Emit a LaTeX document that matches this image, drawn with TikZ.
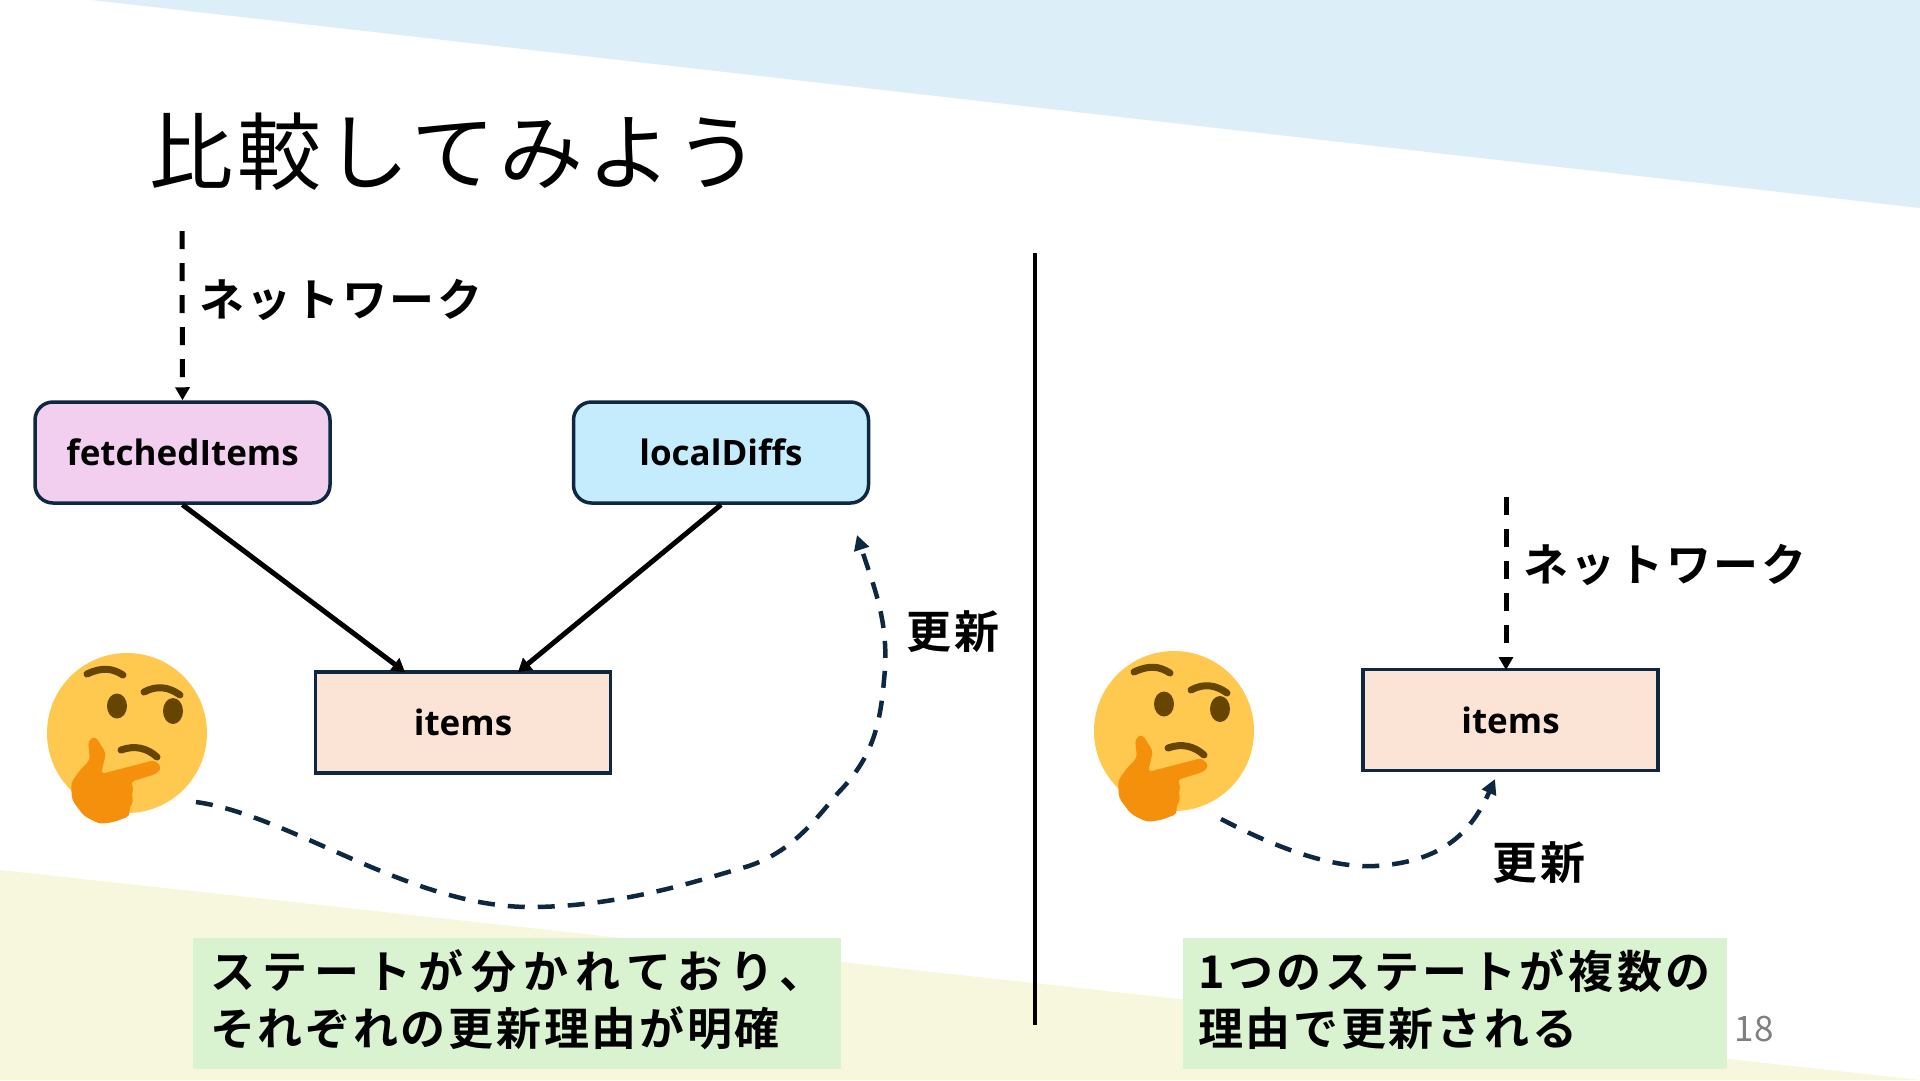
\documentclass[tikz,border=0pt]{standalone}
\usepackage{fontspec}
\newfontfamily\jpfont[BoldFont=* Bold]{Noto Sans CJK JP}
\newfontfamily\jpnarrow[BoldFont=* Bold,LetterSpace=6]{Noto Sans CJK JP}
\newfontfamily\jpspaced[BoldFont=* Bold,LetterSpace=8]{Noto Sans CJK JP}
\newfontfamily\jpwide[BoldFont=* Bold,LetterSpace=16]{Noto Sans CJK JP}
\newfontfamily\jptitle[LetterSpace=5]{Noto Sans CJK JP}
\newfontfamily\latinfont{Open Sans}
\usetikzlibrary{arrows.meta}
\definecolor{navyline}{HTML}{0E2841}
\definecolor{topband}{HTML}{DCEFF8}
\definecolor{bottomband}{HTML}{F6F7DC}
\definecolor{notegreen}{HTML}{D9F2D0}
\definecolor{facegold}{HTML}{FFC84F}
\definecolor{facebrown}{HTML}{664500}
\definecolor{handorange}{HTML}{F4900C}
\definecolor{fetchedpink}{HTML}{F2CEEF}
\definecolor{diffblue}{HTML}{C5ECFD}
\definecolor{itemspeach}{HTML}{FBE3D6}
\tikzset{
	statebox/.style={draw=navyline, line width=3.5pt, minimum width=295pt, minimum height=101pt, inner sep=0pt, font=\latinfont\fontsize{35}{40}\selectfont\bfseries},
	roundbox/.style={statebox, rounded corners=18pt, fill=#1},
	netarrow/.style={draw=black, line width=5pt, dash pattern=on 18pt off 14pt, -{Triangle[length=13pt,width=14pt]}},
	mergearrow/.style={draw=black, line width=5pt, -{Triangle[length=13pt,width=15pt]}},
	updatearrow/.style={draw=navyline, line width=4.5pt, dash pattern=on 17pt off 13pt, -{Triangle[length=15pt,width=15pt]}},
	labeltext/.style={font=\jpnarrow\fontsize{45}{50}\selectfont\bfseries, inner sep=0pt},
	notebox/.style={fill=notegreen, anchor=north west, minimum height=131pt, inner sep=0pt},
	notetext/.style={anchor=west, align=left, font=\jpnarrow\fontsize{45}{57.5}\selectfont\bfseries, inner sep=0pt, yshift=4pt},
	thinkface/.pic={
		\fill[facegold] (0,0) circle (80pt);
		\draw[facebrown, line width=7pt, line cap=round] (-40,-59) .. controls (-25,-66) and (-15,-65) .. (-4,-58);
		\draw[facebrown, line width=7pt, line cap=round] (17,-41) .. controls (30,-48) and (42,-46) .. (53,-38);
		\draw[facebrown, line width=7pt, line cap=round] (-6,17) .. controls (8,12) and (20,15) .. (30,24);
		\fill[facebrown] (-10,-27) ellipse (10pt and 12.5pt);
		\fill[facebrown] (46,-22) ellipse (10pt and 13pt);
		\fill[handorange, rounded corners=4pt] (-32,3) -- (-21,20) -- (-26,41) -- (28,27) -- (35,35) -- (29,41) -- (3,49) -- (7,55) -- (4,63) -- (7,68) -- (2,75) -- (3,83) -- (-13,89) -- (-27,91) -- (-43,83) -- (-55,67) -- (-56,50) -- (-47,37) -- (-37,27) -- (-39,8) -- cycle;
	}
}

\begin{document}
\begin{tikzpicture}[x=1pt, y=-1pt]
	\useasboundingbox (0,0) rectangle (1920,1080);
	\fill[white] (0,0) rectangle (1920,1080);
	\fill[topband] (92,0) -- (1920,208) -- (1920,0) -- cycle;
	\fill[bottomband] (0,870) -- (1920,1080) -- (0,1080) -- cycle;

	\node[anchor=west, inner sep=0pt, font=\jptitle\fontsize{84}{90}\selectfont] (title) at (149,152) {比較してみよう};

	% left side
	\node[roundbox=fetchedpink] (fetched) at (182.5,452.5) {fetchedItems};
	\node[roundbox=diffblue] (diffs) at (721,452.5) {localDiffs};
	\node[statebox, fill=itemspeach] (itemsL) at (463,722.5) {items};
	\coordinate (netL) at (182,231);
	\coordinate (mergeA) at (405,672);
	\coordinate (mergeB) at (518,672);
	\coordinate (thinkL) at (196,802);
	\coordinate (updateL) at (857,535);
	\node[labeltext, anchor=west] (netlabelL) at (199,300) {ネットワーク};
	\node[labeltext] (updatelabelL) at (953,632) {更新};
	\draw[netarrow] (netL) -- (fetched.north);
	\draw[mergearrow] (fetched.south) -- (mergeA);
	\draw[mergearrow] (diffs.south) -- (mergeB);
	\draw[updatearrow] (thinkL) .. controls (290,815) and (410,907) .. (530,907)
		.. controls (620,907) and (700,880) .. (742,868)
		.. controls (790,855) and (815,820) .. (838,793)
		.. controls (870,760) and (880,730) .. (884,680)
		.. controls (890,625) and (875,590) .. (updateL);
	\pic at (127,733) {thinkface};

	% divider
	\coordinate (divtop) at (1035,253);
	\coordinate (divbottom) at (1035,1025);
	\draw[line width=3.5pt] (divtop) -- (divbottom);

	% right side
	\node[statebox, fill=itemspeach] (itemsR) at (1510.5,720) {items};
	\coordinate (netR) at (1506,497);
	\coordinate (netRend) at (1506,670);
	\coordinate (thinkR) at (1221,819);
	\coordinate (updateR) at (1495,779);
	\node[labeltext, anchor=west] (netlabelR) at (1523,565) {ネットワーク};
	\node[labeltext] (updatelabelR) at (1539,863) {更新};
	\draw[netarrow] (netR) -- (netRend);
	\draw[updatearrow] (thinkR) .. controls (1290,855) and (1340,868) .. (1375,866)
		.. controls (1440,862) and (1470,835) .. (updateR);
	\pic at (1174,731) {thinkface};

	% notes
	\node[notebox, minimum width=648pt] (noteL) at (193,938) {};
	\node[notebox, minimum width=544pt] (noteR) at (1183,938) {};
	\node[notetext, xshift=17pt] (noteLtext) at (noteL.west) {{\jpwide\bfseries ステートが分かれており、}\\それぞれの更新理由が明確};
	\node[notetext, xshift=15pt] (noteRtext) at (noteR.west) {{\jpspaced\bfseries 1つのステートが複数の}\\理由で更新される};
	\node[inner sep=0pt, text=gray, font=\jpfont\fontsize{35}{40}\selectfont] (pagenum) at (1754,1029) {18};
\end{tikzpicture}
\end{document}
